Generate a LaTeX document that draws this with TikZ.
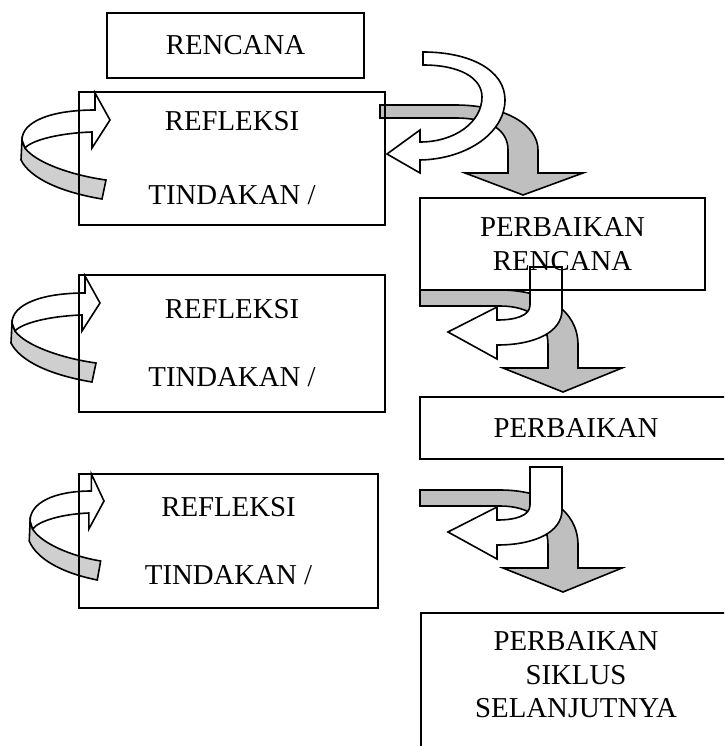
\documentclass[tikz,border=0pt]{standalone}
\usepackage{fontspec}
\setmainfont{Liberation Serif}
\usepackage{tikz}

\begin{document}
\begin{tikzpicture}[x=1pt,y=-1pt,line width=1.6pt,line join=miter]
  \tikzstyle{every node}=[font=\fontsize{28.8}{34}\selectfont]
  \tikzstyle{box}=[draw=black,line width=2pt,inner sep=0pt,align=center]
  \tikzstyle{front}=[draw=black,fill=white]
  \tikzstyle{back}=[draw=black,fill=gray!50]
  \tikzstyle{loopback}=[draw=black,fill=gray!38]

  \useasboundingbox (0,0) rectangle (724,746);
  \clip (0,0) rectangle (724,746);

  % loops on the left
  \foreach \dx/\dy/\sx in {0/0/1,-10/183/1,11.6/381/0.84}{
    \begin{scope}[shift={(\dx,\dy)},xscale=\sx]
      \draw[loopback] (22,140) -- (21,160) .. controls (30,178) and (60,192) .. (102,199)
        -- (106,180) .. controls (70,175) and (35,162) .. (25,148) -- cycle;
      \draw[front] (22,140) .. controls (22,122) and (50,110) .. (95,110) -- (95,93)
        -- (110,120) -- (92,148) -- (92,132) .. controls (60,133) and (32,140) .. (25,148) -- cycle;
    \end{scope}}

  % top turn
  \draw[back] (380,105) -- (455,105) .. controls (505,105) and (538,125) .. (538,150)
    -- (538,173) -- (583,173) -- (523,195) -- (465,173) -- (508,173) -- (508,150)
    .. controls (508,130) and (490,118) .. (455,118) -- (380,118) -- cycle;
  \draw[front] (423,52) .. controls (470,52) and (505,70) .. (505,100)
    .. controls (505,132) and (468,159) .. (420,160) -- (420,173) -- (387,154) -- (420,130)
    -- (420,142) .. controls (455,142) and (482,122) .. (482,97)
    .. controls (482,78) and (460,65) .. (423,65) -- cycle;

  % lower turns
  \foreach \dy in {0,200}{
    \begin{scope}[shift={(0,\dy)}]
      \draw[back] (420,290) -- (500,290) .. controls (545,290) and (578,310) .. (578,345)
        -- (578,368) -- (622,368) -- (563,392) -- (503,368) -- (548,368) -- (548,345)
        .. controls (548,320) and (530,306) .. (500,306) -- (420,306) -- cycle;
      \draw[front] (530,267) -- (562,267) -- (562,310) .. controls (562,332) and (535,345) .. (497,345)
        -- (497,359) -- (448,332) -- (497,307) -- (497,320)
        .. controls (515,320) and (530,316) .. (530,305) -- cycle;
    \end{scope}}

  \node[box,minimum width=257pt,minimum height=65pt] (R) at (235.5,45.5) {RENCANA};
  \node[box,minimum width=306pt,minimum height=133pt] (T1) at (232,158.5) {REFLEKSI\\[40pt]TINDAKAN /};
  \node[box,minimum width=306pt,minimum height=137pt] (T2) at (232,343.5) {REFLEKSI\\[34pt]TINDAKAN /};
  \node[box,minimum width=299pt,minimum height=134pt] (T3) at (228.5,541) {REFLEKSI\\[34pt]TINDAKAN /};
  \node[box,minimum width=285pt,minimum height=92pt] (P1) at (562.5,244) {PERBAIKAN\\RENCANA};
  \node[box,minimum width=312pt,minimum height=62pt] (P2) at (576,428) {PERBAIKAN};
  \node[box,minimum width=320pt,minimum height=160pt,anchor=north west] (P3) at (420,612) {};
  \node[align=center,font=\fontsize{28.8}{33.5}\selectfont] (P3t) at (576,675) {PERBAIKAN\\SIKLUS\\SELANJUTNYA};
\end{tikzpicture}
\end{document}
